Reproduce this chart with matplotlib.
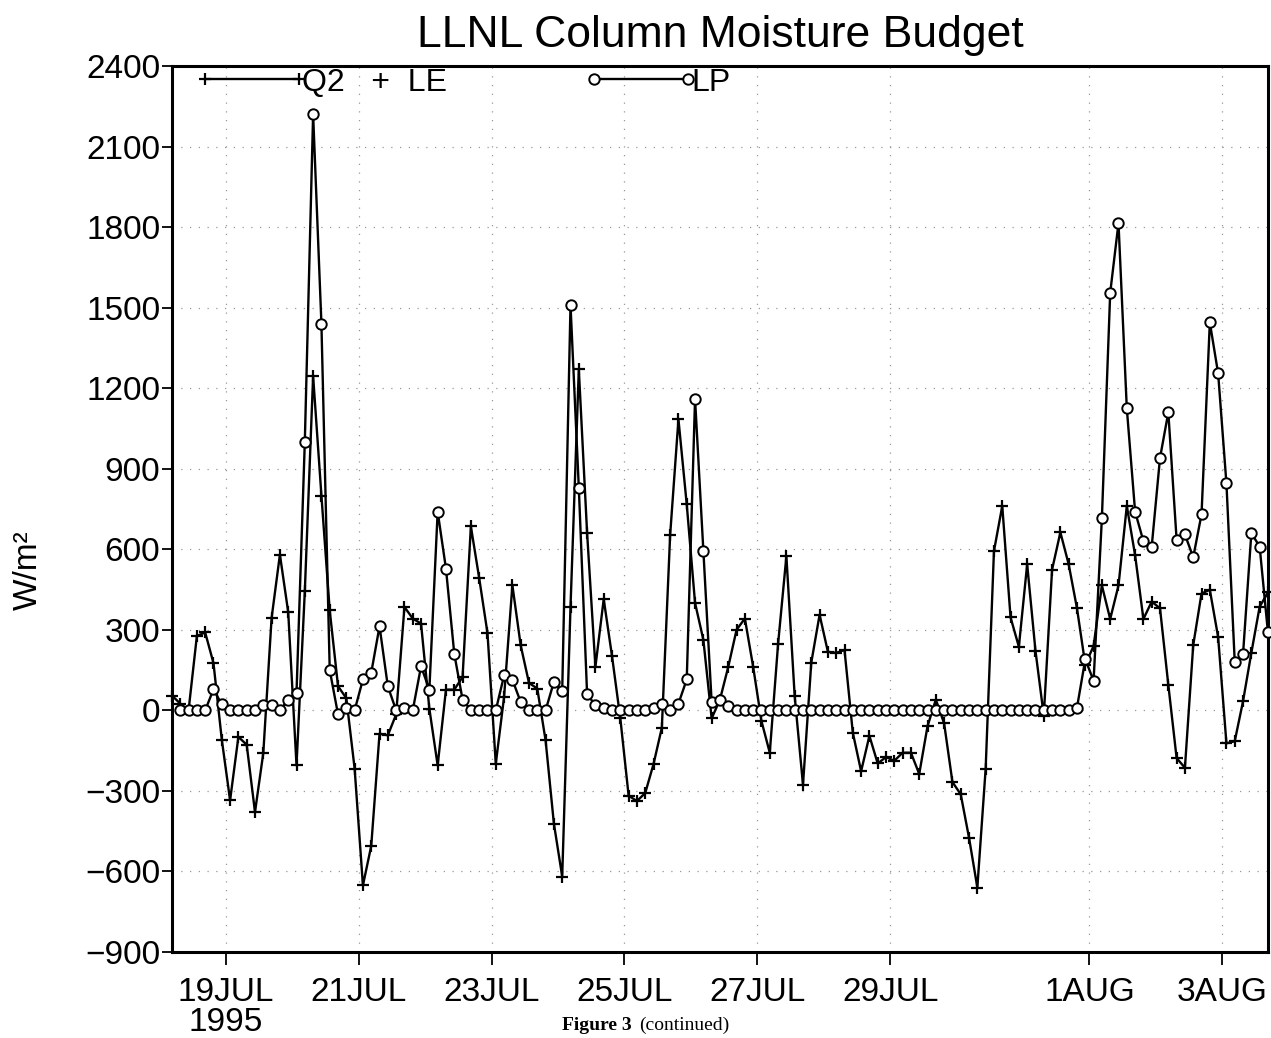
import matplotlib.pyplot as plt
import numpy as np
import pandas as pd

plt.rcParams["font.family"] = ["Liberation Sans", "DejaVu Sans"]

# 3-hourly samples starting 18 JUL 1995 04:30 UTC (W/m^2)
q2_le = [
    55,
    25, 0, 277, 290, 176, -109, -335, -99, -128, -379,
    -159, 344, 580, 366, -205, 443, 1245, 800, 372, 90,
    45, -217, -652, -505, -87, -93, -15, 385, 342, 323,
    6, -205, 77, 77, 124, 685, 493, 288, -199, 50,
    466, 242, 102, 81, -112, -422, -619, 385, 1270, 660,
    162, 414, 202, -30, -318, -338, -308, -200, -65, 653,
    1084, 767, 400, 263, -30, 40, 162, 300, 342, 162,
    -40, -158, 247, 574, 53, -277, 178, 356, 218, 214,
    225, -83, -227, -95, -198, -174, -188, -158, -158, -237,
    -59, 40, -49, -267, -313, -475, -660, -218, 593, 761,
    346, 237, 544, 222, -20, 524, 663, 544, 380, 170,
    240, 465, 340, 465, 761, 578, 340, 405, 380, 95,
    -178, -214, 243, 435, 449, 273, -123, -115, 34, 214,
    386, 439,
]
lp = [
    np.nan,
    0, 0, 0, 0, 78, 22, 0, 0, 0, 0,
    21, 21, 0, 40, 65, 1000, 2220, 1440, 150, -15,
    10, 0, 115, 140, 313, 89, 0, 10, 0, 164,
    77, 740, 528, 211, 40, 0, 0, 0, 0, 130,
    114, 31, 0, 0, 0, 106, 71, 1510, 830, 59,
    20, 10, 0, 0, 0, 0, 0, 10, 25, 0,
    25, 115, 1160, 593, 30, 40, 15, 0, 0, 0,
    0, 0, 0, 0, 0, 0, 0, 0, 0, 0,
    0, 0, 0, 0, 0, 0, 0, 0, 0, 0,
    0, 0, 0, 0, 0, 0, 0, 0, 0, 0,
    0, 0, 0, 0, 0, 0, 0, 0, 10, 190,
    110, 716, 1555, 1815, 1125, 740, 630, 610, 940, 1110,
    635, 655, 570, 730, 1445, 1255, 845, 180, 210, 660,
    610, 290,
]
tick_dates = ["1995-07-19", "1995-07-21", "1995-07-23", "1995-07-25",
              "1995-07-27", "1995-07-29", "1995-08-01", "1995-08-03"]
tick_labels = ["19JUL\n1995", "21JUL", "23JUL", "25JUL",
               "27JUL", "29JUL", "1AUG", "3AUG"]
y_ticks = list(range(-900, 2401, 300))

times = pd.date_range("1995-07-18 04:30", periods=len(q2_le), freq="3h")

fig = plt.figure(figsize=(12.71, 10.38), dpi=100)
ax = fig.add_axes([0.1353, 0.0829, 0.8623, 0.8535])

q2_line, = ax.plot(times, q2_le, color="black", lw=1.7, marker="+", ms=9,
                   mew=1.6, clip_on=False, zorder=3)
lp_line, = ax.plot(times, lp, color="black", lw=1.7, marker="o", ms=7.5,
                   mfc="white", mec="black", mew=1.4, clip_on=False, zorder=4)

ax.set_xlim(times[0], times[-1])
ax.set_ylim(-900, 2400)
ax.set_yticks(y_ticks)
ax.set_xticks(pd.to_datetime(tick_dates))
ax.set_xticklabels(tick_labels, linespacing=0.95)
ax.tick_params(axis="both", direction="out", length=7, width=1.3,
               labelsize=24, pad=1.5)
ax.tick_params(axis="x", length=9, pad=9)
for s in ax.spines.values():
    s.set_linewidth(2.2)
ax.grid(True, color="0.6", linestyle=(0, (1, 6)), linewidth=0.9)

ax.set_title("LLNL Column Moisture Budget", fontsize=32, pad=14)
fig.text(0.022, 0.451, "W/m²", rotation=90, fontsize=24,
         ha="center", va="center")

# legend: two entries placed separately like the original
leg_kw = dict(loc="upper left", numpoints=2, frameon=False, fontsize=23,
              handlelength=3.55, handletextpad=-0.2, borderpad=0.05,
              borderaxespad=0)
leg1 = ax.legend([q2_line], ["Q2   +  LE"], bbox_to_anchor=(0.0195, 1.0),
                 **leg_kw)
ax.add_artist(leg1)
ax.legend([lp_line], ["LP"], bbox_to_anchor=(0.375, 1.0), **leg_kw)

# caption squeezed into the strip under the date labels
fig.text(0.497, 0.004, "Figure 3", fontsize=14, fontweight="bold",
         family="Liberation Serif", va="bottom", ha="right")
fig.text(0.503, 0.004, "(continued)", fontsize=14,
         family="Liberation Serif", va="bottom", ha="left")

fig.savefig("out.png", dpi=100)
